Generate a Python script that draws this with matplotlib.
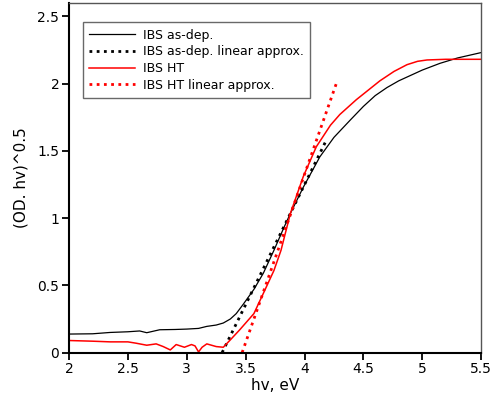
import matplotlib
matplotlib.use('Agg')
import matplotlib.pyplot as plt
from matplotlib.ticker import FuncFormatter

# IBS as-dep.
hv_dep = [2.0, 2.2, 2.35, 2.5, 2.6, 2.66, 2.77, 2.9, 3.0, 3.1, 3.17, 3.25, 3.31, 3.37, 3.42,
          3.48, 3.57, 3.65, 3.74, 3.82, 3.88, 3.99, 4.13, 4.25, 4.39, 4.5, 4.6, 4.7,
          4.8, 4.9, 5.0, 5.15, 5.3, 5.5]
od_dep = [0.138, 0.14, 0.15, 0.155, 0.161, 0.148, 0.17, 0.172, 0.175, 0.18, 0.195, 0.205, 0.22, 0.25, 0.29,
          0.36, 0.47, 0.59, 0.76, 0.92, 1.035, 1.23, 1.455, 1.60, 1.73, 1.83, 1.91, 1.97,
          2.02, 2.06, 2.10, 2.15, 2.19, 2.23]

# IBS HT
hv_ht = [2.0, 2.2, 2.35, 2.5, 2.57, 2.66, 2.74, 2.8, 2.86, 2.91, 2.98, 3.04, 3.07, 3.10, 3.13,
         3.17, 3.25, 3.31, 3.37, 3.45, 3.57, 3.65, 3.74, 3.80, 3.88, 3.99, 4.10,
         4.22, 4.30, 4.44, 4.64, 4.76, 4.87, 4.96, 5.04, 5.2, 5.5]
od_ht = [0.09, 0.085, 0.08, 0.08, 0.07, 0.055, 0.065, 0.045, 0.02, 0.06, 0.04, 0.06, 0.05, 0.005, 0.04,
         0.065, 0.045, 0.04, 0.095, 0.17, 0.29, 0.44, 0.61, 0.76, 1.035, 1.31, 1.53,
         1.69, 1.77, 1.88, 2.02, 2.09, 2.14, 2.165, 2.175, 2.18, 2.18]

# linear approximations
hv_dep_lin = [3.30, 4.18]
od_dep_lin = [0.0, 1.57]
hv_ht_lin = [3.47, 4.27]
od_ht_lin = [0.0, 2.0]

plt.rcParams['font.family'] = ['DejaVu Sans']

fig = plt.figure(figsize=(4.93, 3.98), dpi=100)
ax = fig.add_axes([0.140, 0.114, 0.836, 0.879])

ax.plot(hv_dep, od_dep, color='black', lw=0.9, label='IBS as-dep.')
ax.plot(hv_dep_lin, od_dep_lin, color='black', lw=2, linestyle=(0, (1, 1.6)), label='IBS as-dep. linear approx.')
ax.plot(hv_ht, od_ht, color='red', lw=1.1, label='IBS HT')
ax.plot(hv_ht_lin, od_ht_lin, color='red', lw=2, linestyle=(0, (1, 1.6)), label='IBS HT linear approx.')

ax.set_xlim(2, 5.5)
ax.set_ylim(0, 2.6)
ax.set_xticks([2, 2.5, 3, 3.5, 4, 4.5, 5, 5.5])
ax.set_yticks([0, 0.5, 1, 1.5, 2, 2.5])
fmt = FuncFormatter(lambda v, p: '%g' % v)
ax.xaxis.set_major_formatter(fmt)
ax.yaxis.set_major_formatter(fmt)
ax.tick_params(direction='out', length=5, width=1.3, labelsize=10, pad=2)

for s in ['left', 'bottom']:
    ax.spines[s].set_linewidth(1.5)
for s in ['top', 'right']:
    ax.spines[s].set_color('#555555')
    ax.spines[s].set_linewidth(1.0)

ax.set_xlabel('hv, eV', fontsize=11, labelpad=1)
ax.set_ylabel('(OD. hv)^0.5', fontsize=11, labelpad=6)

leg = ax.legend(loc='upper left', bbox_to_anchor=(0.018, 0.962), fontsize=9, frameon=True,
                fancybox=False, edgecolor='#444444', handlelength=3.7, borderpad=0.5,
                labelspacing=0.3, handletextpad=0.6)
leg.get_frame().set_linewidth(1.0)

fig.savefig('out.png', dpi=100)
